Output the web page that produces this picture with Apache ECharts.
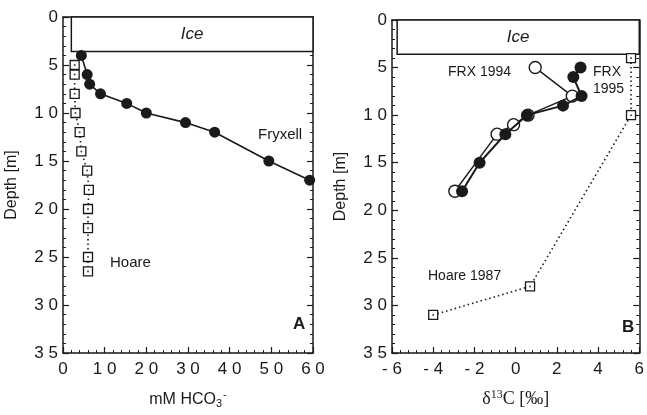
<!DOCTYPE html>
<html>
<head>
<meta charset="utf-8">
<script src="https://cdn.jsdelivr.net/npm/echarts@6/dist/echarts.min.js"></script>
<style>
  html, body { margin: 0; padding: 0; background: #fff; }
  #chart { width: 647px; height: 415px; }
</style>
</head>
<body>
<div id="chart"></div>
<script>
// panel A: HCO3- vs depth
const fryxellHco3 = [4.4, 5.8, 6.4, 9.0, 15.3, 20.0, 29.4, 36.4, 49.4, 59.2]
const fryxellDepth = [4, 6, 7, 8, 9, 10, 11, 12, 15, 17]
const hoareHco3 = [2.8, 2.8, 2.8, 3.0, 4.0, 4.4, 5.8, 6.2, 6.0, 6.0, 6.0, 6.0]
const hoareDepth = [5, 6, 8, 10, 12, 14, 16, 18, 20, 22, 25, 26.5]

// panel B: d13C vs depth
const frx1995D13c = [3.15, 2.8, 3.2, 2.3, 0.55, -0.5, -1.75, -2.6]
const frx1995Depth = [5, 6, 8, 9, 10, 12, 15, 18]
const frx1994D13c = [0.95, 2.75, 0.6, -0.1, -0.9, -2.95]
const frx1994Depth = [5, 8, 10, 11, 12, 18]
const hoare1987D13c = [5.6, 5.6, 0.7, -4.0]
const hoare1987Depth = [4, 10, 28, 31]

const iceDepth = 3.6

const pairs = (xs, ys) => xs.map((x, i) => [x, ys[i]])
const spaced = v => String(v).split('').join(' ')

const ink = '#1a1a1a'
const font = 'Liberation Sans'

const chart = echarts.init(document.getElementById('chart'))

const baseY = (grid, show) => ({
  type: 'value', gridIndex: grid, min: 0, max: 35, interval: 5, inverse: true,
  position: show ? 'left' : 'right',
  axisLine: { show: true, onZero: false, lineStyle: { color: ink, width: 1.5 } },
  axisTick: { show: true, inside: true, length: 6, lineStyle: { color: ink, width: 1.2 } },
  minorTick: { show: true, splitNumber: 5, length: 3, lineStyle: { color: ink } },
  splitLine: { show: false },
  axisLabel: { show: show, formatter: spaced, fontFamily: font, fontSize: 17, color: ink, margin: 5 },
  name: show ? 'Depth [m]' : '', nameLocation: 'middle', nameGap: 43, nameRotate: 90,
  nameTextStyle: { fontFamily: font, fontSize: 16, color: ink }
})

const bottomX = (grid, min, max, interval, name, nameStyle) => ({
  type: 'value', gridIndex: grid, min, max, interval, position: 'bottom',
  axisLine: { show: true, onZero: false, lineStyle: { color: ink, width: 1.5 } },
  axisTick: { show: true, inside: true, length: 6, lineStyle: { color: ink, width: 1.2 } },
  minorTick: { show: true, splitNumber: 5, length: 3, lineStyle: { color: ink } },
  splitLine: { show: false },
  axisLabel: { formatter: spaced, fontFamily: font, fontSize: 17, color: ink, margin: 8 },
  name, nameLocation: 'middle', nameGap: 36,
  nameTextStyle: nameStyle
})

const topX = (grid, min, max) => ({
  type: 'value', gridIndex: grid, min, max, position: 'top',
  axisLine: { show: true, onZero: false, lineStyle: { color: ink, width: 1.5 } },
  axisTick: { show: false }, axisLabel: { show: false }, splitLine: { show: false }
})

const iceArea = (x0, x1) => ({
  silent: true,
  itemStyle: { color: '#fff', borderColor: ink, borderWidth: 1.5 },
  label: { show: true, position: 'inside', fontFamily: font, fontStyle: 'italic', fontSize: 17, color: ink },
  data: [[{ name: 'Ice', xAxis: x0, yAxis: 0 }, { xAxis: x1, yAxis: iceDepth }]]
})

const openSquare = (name, xi, yi, data) => ([
  {
    name, type: 'line', xAxisIndex: xi, yAxisIndex: yi, data,
    symbol: 'rect', symbolSize: 9,
    lineStyle: { color: ink, width: 1.6, type: [1.5, 3] },
    itemStyle: { color: '#fff', borderColor: ink, borderWidth: 1.3 }, z: 3
  },
  {
    type: 'scatter', xAxisIndex: xi, yAxisIndex: yi, data,
    symbol: 'circle', symbolSize: 2, itemStyle: { color: ink }, z: 4
  }
])

const text = (x, y, t, extra) => ({
  type: 'text', x, y, z: 10,
  style: Object.assign({ text: t, font: '15px "Liberation Sans"', fill: ink }, extra || {})
})

chart.setOption({
  backgroundColor: '#fff',
  animation: false,
  grid: [
    { left: 63, right: 334, top: 17, bottom: 62 },
    { left: 392, right: 5, top: 20, bottom: 62 }
  ],
  xAxis: [
    bottomX(0, 0, 60, 10, 'mM HCO{sub|3}{sup|-}', {
      fontFamily: font, fontSize: 16, color: ink,
      rich: {
        sub: { fontFamily: font, fontSize: 11, color: ink, padding: [8, 0, 0, 0] },
        sup: { fontFamily: font, fontSize: 11, color: ink, padding: [0, 0, 10, 1] }
      }
    }),
    topX(0, 0, 60),
    bottomX(1, -6, 6, 2, 'δ{sup|13}C [‰]', {
      fontFamily: 'Liberation Serif', fontSize: 18, color: ink,
      rich: { sup: { fontFamily: 'Liberation Serif', fontSize: 12, color: ink, padding: [0, 0, 9, 0] } }
    }),
    topX(1, -6, 6)
  ],
  yAxis: [
    baseY(0, true), baseY(0, false),
    baseY(1, true), baseY(1, false)
  ],
  series: [
    {
      name: 'Fryxell', type: 'line', xAxisIndex: 0, yAxisIndex: 0,
      data: pairs(fryxellHco3, fryxellDepth),
      symbol: 'circle', symbolSize: 11,
      lineStyle: { color: ink, width: 1.6 }, itemStyle: { color: ink },
      markArea: iceArea(2, 60), z: 3
    },
    ...openSquare('Hoare', 0, 0, pairs(hoareHco3, hoareDepth)),
    {
      name: 'FRX 1994', type: 'line', xAxisIndex: 2, yAxisIndex: 2,
      data: pairs(frx1994D13c, frx1994Depth),
      symbol: 'circle', symbolSize: 12,
      lineStyle: { color: ink, width: 1.4 },
      itemStyle: { color: '#fff', borderColor: ink, borderWidth: 1.4 },
      markArea: iceArea(-5.75, 6), z: 3
    },
    {
      name: 'FRX 1995', type: 'line', xAxisIndex: 2, yAxisIndex: 2,
      data: pairs(frx1995D13c, frx1995Depth),
      symbol: 'circle', symbolSize: 12,
      lineStyle: { color: ink, width: 2 }, itemStyle: { color: ink }, z: 4
    },
    ...openSquare('Hoare 1987', 2, 2, pairs(hoare1987D13c, hoare1987Depth))
  ],
  graphic: [
    text(258, 127, 'Fryxell'),
    text(110, 255, 'Hoare'),
    text(293, 316, 'A', { font: 'bold 17px "Liberation Sans"' }),
    text(448, 65, 'FRX 1994', { font: '14px "Liberation Sans"' }),
    text(593, 65, 'FRX', { font: '14px "Liberation Sans"' }),
    text(593, 82, '1995', { font: '14px "Liberation Sans"' }),
    text(428, 269, 'Hoare 1987', { font: '14px "Liberation Sans"' }),
    text(622, 319, 'B', { font: 'bold 17px "Liberation Sans"' })
  ]
})
</script>
</body>
</html>
